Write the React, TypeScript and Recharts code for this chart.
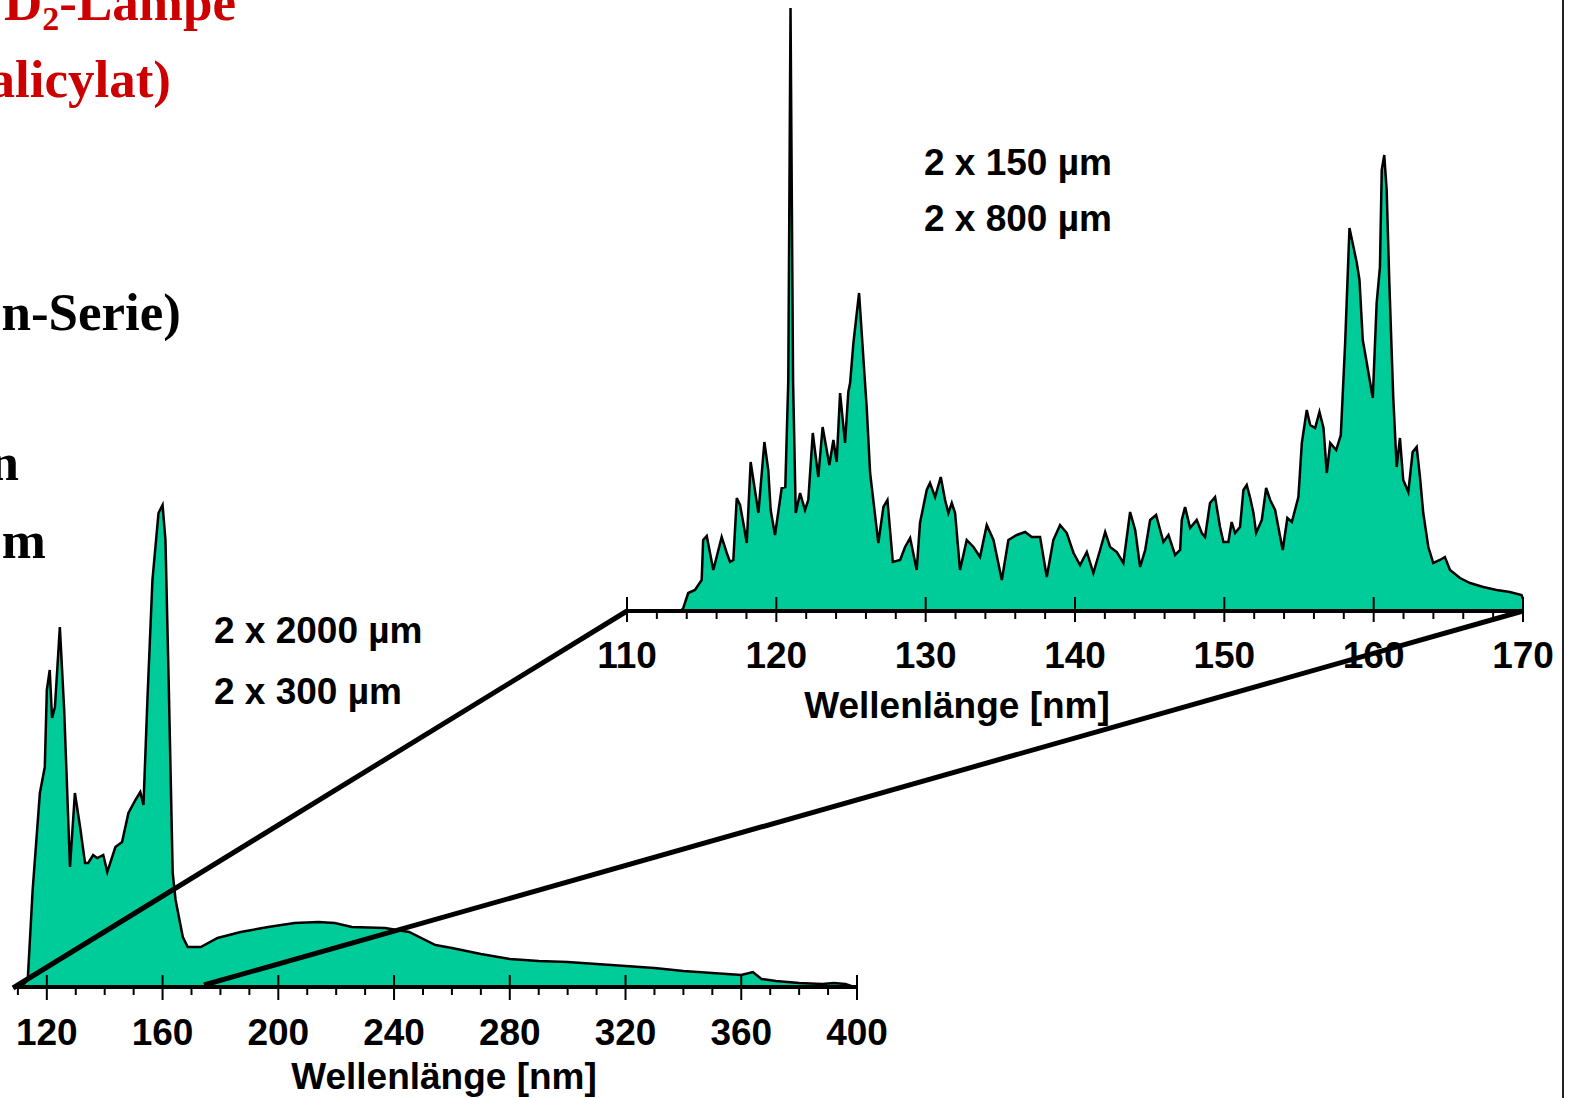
import React from "react";
import { AreaChart, Area, XAxis, YAxis } from "recharts";

// overview spectrum, 2 x 2000 µm / 2 x 300 µm
const wideNm = [
  111, 113.4, 115.1, 117.6, 119.3, 120, 121, 121.8, 122.8, 124.5, 126, 128, 129.7, 131.5, 133.2, 134.3,
  136, 137.4, 139.5, 140.9, 143.7, 146, 148.2, 150.6, 152.3, 153.4, 154.8, 156.5, 158.6, 160, 161,
  162.1, 163.5, 164.5, 167, 168.7, 173.2, 179, 187, 196.5, 205.6, 213.9, 219.5, 225.4, 236.9, 245.2,
  254.3, 260, 270, 280, 290, 300, 310, 320, 330, 340, 350, 360, 364, 367, 372, 380, 388, 392, 396, 398,
];
const wideVal = [
  0, 7, 97, 194, 220, 297, 317, 269, 280, 360, 277, 120, 194, 160, 124, 124,
  132, 129, 132, 115, 140, 145, 174, 187, 195, 182, 290, 407, 474, 482, 447,
  307, 114, 87, 50, 40, 40, 49, 55, 60, 64, 65, 64, 60, 59, 55,
  42, 39, 33, 28, 26, 25, 23, 21, 19, 16, 14, 12, 15, 8, 6, 4, 3, 4, 3, 1,
];
const wideTicks = [110, 120, 130, 140, 150, 160, 170, 180, 190, 200, 210, 220, 230, 240, 250, 260, 270, 280, 290, 300, 310, 320, 330, 340, 350, 360, 370, 380, 390, 400];

// zoomed spectrum 110-170 nm, 2 x 150 µm / 2 x 800 µm
const zoomNm = [
  113.6, 113.77, 114.1, 114.55, 115.0, 115.1, 115.34, 115.78, 116.34, 116.68, 116.9, 117.12, 117.35,
  117.57, 117.79, 118.02, 118.28, 118.8, 119.2, 119.46, 119.62, 119.91, 120.36, 120.6, 120.8, 120.95,
  121.12, 121.3, 121.59, 121.92, 122.14, 122.44, 122.81, 123.1, 123.55, 123.82, 124.04, 124.27, 124.6,
  124.82, 124.94, 125.16, 125.54, 125.94, 126.05, 126.28, 126.83, 127.17, 127.44, 127.8, 128.29, 128.62,
  128.96, 129.4, 129.62, 130.07, 130.29, 130.63, 131.01, 131.3, 131.52, 131.75, 131.97, 132.3, 132.75,
  133.2, 133.64, 134.09, 134.54, 135.1, 135.54, 136.1, 136.66, 137.1, 137.66, 138.11, 138.55, 139.0,
  139.45, 139.9, 140.34, 140.79, 141.23, 141.68, 142.02, 142.35, 142.8, 143.24, 143.69, 144.03, 144.36,
  144.7, 145.03, 145.43, 145.92, 146.26, 146.7, 147.04, 147.15, 147.37, 147.71, 148.15, 148.49, 148.71,
  149.04, 149.38, 149.71, 149.94, 150.27, 150.49, 150.72, 151.05, 151.28, 151.5, 151.73, 151.95, 152.13,
  152.51, 152.8, 153.07, 153.4, 153.74, 153.91, 154.22, 154.52, 154.96, 155.19, 155.52, 155.75, 156.08,
  156.37, 156.64, 156.86, 157.09, 157.49, 157.8, 158.09, 158.38, 158.69, 158.87, 159.05, 159.27, 159.54,
  159.94, 160.2, 160.42, 160.54, 160.71, 160.87, 161.05, 161.31, 161.54, 161.76, 161.98, 162.32, 162.61,
  162.88, 163.1, 163.32, 163.66, 163.99, 164.44, 164.77, 165.11, 165.78, 166.45, 167.34, 168.23, 169.12,
  169.9, 170,
];
const zoomVal = [
  0, 3, 18, 21, 31, 71, 75, 41, 74, 58, 49, 51, 113,
  106, 88, 68, 149, 98, 169, 141, 101, 76, 123, 124, 231, 603,
  231, 98, 118, 101, 111, 178, 134, 184, 146, 171, 149, 218, 168,
  219, 228, 268, 318, 228, 204, 138, 68, 104, 111, 49, 51, 64,
  73, 41, 88, 121, 128, 114, 134, 111, 98, 108, 98, 41, 71,
  64, 54, 86, 71, 31, 71, 76, 79, 74, 74, 34, 71, 86,
  78, 58, 46, 59, 38, 61, 79, 64, 59, 48, 99, 81, 44,
  61, 91, 96, 69, 76, 56, 61, 91, 104, 83, 91, 78, 74,
  108, 114, 84, 69, 69, 89, 78, 84, 121, 126, 113, 98, 78,
  91, 123, 111, 101, 74, 61, 93, 89, 114, 168, 201, 186, 183,
  199, 183, 138, 168, 161, 176, 268, 383, 361, 348, 331, 271, 248,
  213, 308, 344, 441, 456, 421, 328, 214, 144, 173, 131, 119, 159,
  164, 134, 98, 64, 48, 51, 54, 41, 33, 28, 24, 21, 19,
  16, 12,
];
const zoomTicks = [110, 112, 114, 116, 118, 120, 122, 124, 126, 128, 130, 132, 134, 136, 138, 140, 142, 144, 146, 148, 150, 152, 154, 156, 158, 160, 162, 164, 166, 168, 170];

const wideData = wideNm.map((nm, i) => ({ nm, v: wideVal[i] }));
const zoomData = zoomNm.map((nm, i) => ({ nm, v: zoomVal[i] }));

const FILL = "#00cc99";
const SANS = "'Liberation Sans', Arial, sans-serif";
const SERIF = "'Liberation Serif', 'Times New Roman', serif";

const makeTick = (step: number, up: number, down: number, labelDy: number) => (props: any) => {
  const { x, y, payload } = props;
  const v = payload.value;
  const major = v % step === 0;
  return (
    <g>
      {major ? (
        <line x1={x} x2={x} y1={y - up} y2={y + down} stroke="#000" strokeWidth={2} />
      ) : (
        <line x1={x} x2={x} y1={y} y2={y + 8} stroke="#000" strokeWidth={2} />
      )}
      {major && (
        <text x={x} y={y + labelDy} textAnchor="middle" fontFamily={SANS} fontWeight="bold" fontSize={37} fill="#000">
          {v}
        </text>
      )}
    </g>
  );
};

const WideTick = makeTick(40, 12, 13, 58);
const ZoomTick = makeTick(10, 14, 11, 57);

const App: React.FC = () => {
  return (
    <div style={{ position: "absolute", left: 0, top: 0, width: 1569, height: 1098, background: "#fff", overflow: "hidden" }}>
      <div style={{ position: "absolute", left: 0, top: 400 }}>
        <AreaChart width={900} height={698} data={wideData} margin={{ top: 87, right: 43, bottom: 11, left: 15 }}>
          <XAxis
            type="number"
            dataKey="nm"
            domain={[109, 400]}
            ticks={wideTicks}
            interval={0}
            height={100}
            tickSize={0}
            tickMargin={0}
            tickLine={false}
            tick={WideTick}
            axisLine={{ stroke: "#000", strokeWidth: 4 }}
            label={{ value: "Wellenlänge [nm]", position: "insideBottom", offset: -2, dx: 8, fontFamily: SANS, fontWeight: "bold", fontSize: 37, fill: "#000" }}
          />
          <YAxis hide type="number" domain={[0, 500]} />
          <Area type="linear" dataKey="v" stroke="#000" strokeWidth={2.5} fill={FILL} fillOpacity={1} dot={false} isAnimationActive={false} />
        </AreaChart>
      </div>

      <div style={{ position: "absolute", left: 560, top: 0 }}>
        <AreaChart width={1000} height={760} data={zoomData} margin={{ top: 1, right: 37, bottom: 29, left: 67 }}>
          <XAxis
            type="number"
            dataKey="nm"
            domain={[110, 170]}
            ticks={zoomTicks}
            interval={0}
            height={120}
            tickSize={0}
            tickMargin={0}
            tickLine={false}
            tick={ZoomTick}
            axisLine={{ stroke: "#000", strokeWidth: 4 }}
            label={{ value: "Wellenlänge [nm]", position: "insideBottom", offset: 13, dx: -118, fontFamily: SANS, fontWeight: "bold", fontSize: 37, fill: "#000" }}
          />
          <YAxis hide type="number" domain={[0, 610]} />
          <Area type="linear" dataKey="v" stroke="#000" strokeWidth={2.5} fill={FILL} fillOpacity={1} dot={false} isAnimationActive={false} />
        </AreaChart>
      </div>

      <svg width={1569} height={1098} style={{ position: "absolute", left: 0, top: 0, pointerEvents: "none" }}>
        {/* slide text cut off at the left edge */}
        <g fontFamily={SERIF} fontWeight="bold" fontSize={53}>
          <text x={4} y={20} fill="#cc0000">
            D<tspan fontSize={34} dy={10}>2</tspan>
            <tspan dy={-10}>-Lampe</tspan>
          </text>
          <text x={171} y={97} textAnchor="end" fill="#cc0000">alicylat)</text>
          <text x={181} y={330} textAnchor="end" fill="#000">n-Serie)</text>
          <text x={19} y={480} textAnchor="end" fill="#000">n</text>
          <text x={46} y={558} textAnchor="end" fill="#000">m</text>
        </g>

        <g fontFamily={SANS} fontWeight="bold" fontSize={37} fill="#000">
          <text x={214} y={643}>2 x 2000 µm</text>
          <text x={214} y={704}>2 x 300 µm</text>
          <text x={924} y={175}>2 x 150 µm</text>
          <text x={924} y={231}>2 x 800 µm</text>
        </g>

        {/* zoom connector lines */}
        <line x1={13} y1={988} x2={627} y2={611} stroke="#000" strokeWidth={5} />
        <line x1={204} y1={985} x2={1523} y2={611} stroke="#000" strokeWidth={5} />

        <line x1={1563} y1={0} x2={1563} y2={1098} stroke="#222" strokeWidth={2} />
      </svg>
    </div>
  );
};

export default App;
